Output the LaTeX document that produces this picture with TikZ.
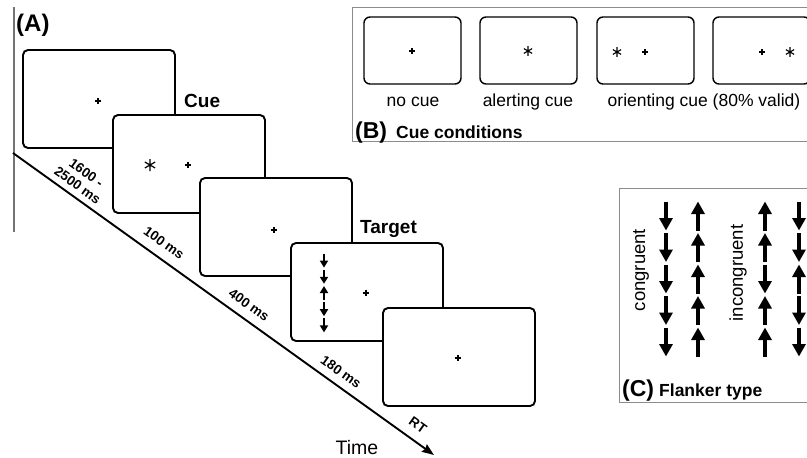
\documentclass[tikz,border=0pt]{standalone}
\usepackage{fontspec}
\setmainfont{Liberation Sans}
\usetikzlibrary{arrows.meta}
\begin{document}
\begin{tikzpicture}[x=1pt,y=-1pt,
  scr/.style={draw=black,line width=1.9pt,fill=white,rounded corners=5pt,minimum width=152pt,minimum height=98pt,anchor=north west,inner sep=0pt,outer sep=0pt},
  mscr/.style={draw=black,line width=1.4pt,fill=white,rounded corners=6pt,minimum width=97pt,minimum height=67pt,anchor=north west,inner sep=0pt,outer sep=0pt},
  panelline/.style={draw=black!45,line width=0.9pt},
  steplbl/.style={font=\fontsize{19}{21}\selectfont\bfseries,inner sep=0pt,anchor=base west},
  panellbl/.style={font=\fontsize{23}{25}\selectfont\bfseries,inner sep=0pt,anchor=base west},
  paneltitle/.style={font=\fontsize{17.5}{19}\selectfont\bfseries,inner sep=0pt,anchor=base west},
  durlbl/.style={font=\fontsize{13.5}{15}\selectfont\bfseries,inner sep=0pt,rotate=-35.6,align=center},
  cuelbl/.style={font=\fontsize{17.5}{19}\selectfont,inner sep=0pt,anchor=base},
  flklbl/.style={font=\fontsize{18.5}{20}\selectfont,inner sep=0pt,rotate=90},
  bigarr/.style={line width=4pt,-{Triangle[width=13pt,length=12.5pt]}},
  smallarr/.style={line width=1.9pt,-{Triangle[width=8pt,length=7pt]}},
  crossA/.pic={\draw[line width=1.6pt] (-3.4,0)--(3.4,0) (0,-3.4)--(0,3.4);},
  crossB/.pic={\draw[line width=1.2pt] (-2.8,0)--(2.8,0) (0,-2.8)--(0,2.8);},
  astA/.pic={\draw[line width=1.2pt] (90:6)--(270:6) (30:6)--(210:6) (150:6)--(330:6);},
  astB/.pic={\draw[line width=1.1pt] (90:4.8)--(270:4.8) (30:4.8)--(210:4.8) (150:4.8)--(330:4.8);}
]
\useasboundingbox (0,0) rectangle (807,458);
\fill[white] (0,0) rectangle (807,458);

% ---------------- Panel A ----------------
\draw[black!55,line width=1.1pt] (14,7) -- (14,232);
\node[panellbl,font=\fontsize{24}{26}\selectfont\bfseries] (labA) at (16,31) {(A)};

\coordinate (t0) at (13,153);
\coordinate (t1) at (434,455);
\draw[line width=1.9pt,-{Stealth[length=12pt,width=9pt,inset=1.5pt]}] (t0) -- (t1);

\node[scr] (s1) at (23,50) {};
\pic at (98,101) {crossA};
\node[scr] (s2) at (113,115) {};
\pic at (150,165) {astA};
\pic at (188,165) {crossA};
\node[scr] (s3) at (200,178) {};
\pic at (274,230) {crossA};
\node[scr] (s4) at (291,243) {};
\foreach \d [count=\i from 0] in {1,1,-1,1,1}
  \draw[smallarr] (324,{293+16.2*(\i-2)-7*\d}) -- (324,{293+16.2*(\i-2)+7*\d});
\pic at (366,293) {crossA};
\node[scr] (s5) at (383,308) {};
\pic at (458,358) {crossA};

\node[steplbl] (cue) at (184,107) {Cue};
\node[steplbl] (target) at (360,233) {Target};

\node[durlbl] (d1) at (82,179) {1600 -\\2500 ms};
\node[durlbl] (d2) at (164,243) {100 ms};
\node[durlbl] (d3) at (249,305) {400 ms};
\node[durlbl] (d4) at (341,372) {180 ms};
\node[durlbl] (d5) at (418,425) {RT};
\node[font=\fontsize{19.5}{21}\selectfont,inner sep=0pt,anchor=base] (time) at (357,454) {Time};

% ---------------- Panel B ----------------
\draw[panelline] (812,7) -- (352,7) -- (352,141) -- (812,141);
\node[mscr] (b1) at (364,17) {};
\pic at (412,51) {crossB};
\node[mscr] (b2) at (480,17) {};
\pic at (528,51) {astB};
\node[mscr] (b3) at (597,17) {};
\pic at (617,52) {astB};
\pic at (645,52) {crossB};
\node[mscr] (b4) at (713,17) {};
\pic at (762,52) {crossB};
\pic at (790,52) {astB};
\node[cuelbl] (nc) at (413,106) {no cue};
\node[cuelbl] (ac) at (528,106) {alerting cue};
\node[cuelbl] (oc) at (704,106) {orienting cue (80\% valid)};
\node[panellbl] (labB) at (355,138) {(B)};
\node[paneltitle] (titB) at (396,138) {Cue conditions};

% ---------------- Panel C ----------------
\draw[panelline] (812,188) -- (619,188) -- (619,402) -- (812,402);
\foreach \d [count=\i from 0] in {1,1,1,1,1}
  \draw[bigarr] (666,{216+31.5*\i-14.5*\d}) -- (666,{216+31.5*\i+14.5*\d});
\foreach \d [count=\i from 0] in {-1,-1,-1,-1,-1}
  \draw[bigarr] (698,{216+31.5*\i-14.5*\d}) -- (698,{216+31.5*\i+14.5*\d});
\foreach \d [count=\i from 0] in {-1,-1,1,-1,-1}
  \draw[bigarr] (765,{216+31.5*\i-14.5*\d}) -- (765,{216+31.5*\i+14.5*\d});
\foreach \d [count=\i from 0] in {1,1,-1,1,1}
  \draw[bigarr] (799,{216+31.5*\i-14.5*\d}) -- (799,{216+31.5*\i+14.5*\d});
\node[flklbl] (cong) at (641,270) {congruent};
\node[flklbl] (incong) at (738,273) {incongruent};
\node[panellbl] (labC) at (622,396) {(C)};
\node[paneltitle] (titC) at (659,396) {Flanker type};
\end{tikzpicture}
\end{document}
